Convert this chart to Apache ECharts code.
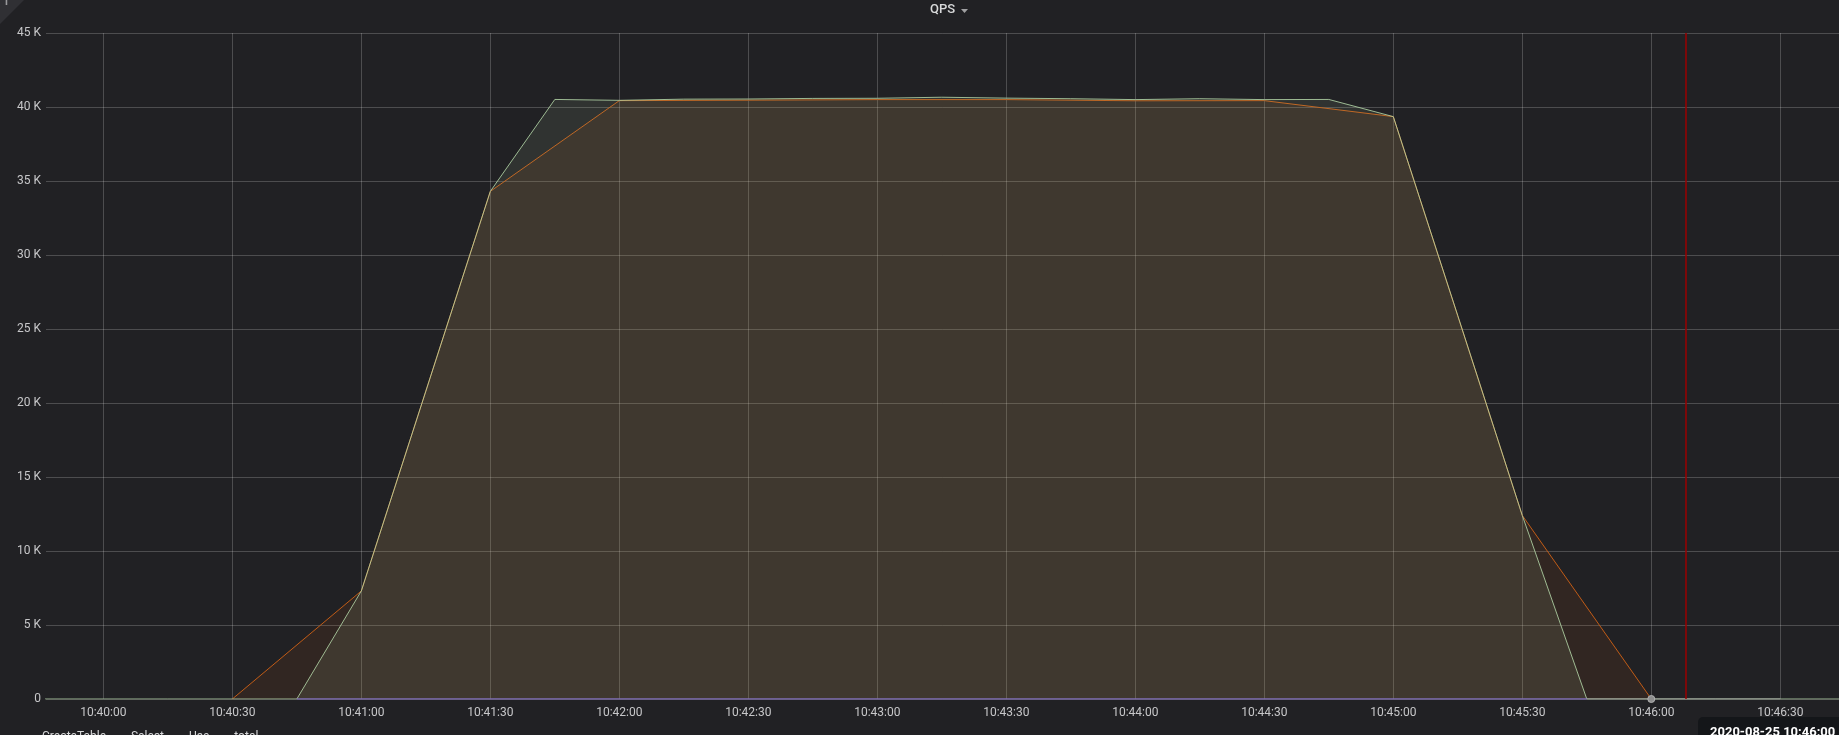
<!DOCTYPE html>
<html>
<head>
<meta charset="utf-8">
<script src="https://cdn.jsdelivr.net/npm/echarts@6/dist/echarts.min.js"></script>
<style>
html,body{margin:0;padding:0;background:#212124;}
#chart{width:1839px;height:735px;}
</style>
</head>
<body>
<div id="chart"></div>
<script>
// ---- data ----
const selectTimes = ['10:40:30','10:41:00','10:41:30','10:42:00','10:42:30','10:43:00','10:43:30','10:44:00','10:44:30','10:45:00','10:45:30','10:46:00'];
const selectValues = [0, 7300, 34300, 40430, 40460, 40500, 40500, 40420, 40430, 39350, 12400, 0];

const totalTimes = ['10:39:45','10:40:00','10:40:15','10:40:30','10:40:45','10:41:00','10:41:15','10:41:30','10:41:45','10:42:00','10:42:15','10:42:30','10:42:45','10:43:00','10:43:15','10:43:30','10:43:45','10:44:00','10:44:15','10:44:30','10:44:45','10:45:00','10:45:15','10:45:30','10:45:45','10:46:00','10:46:15','10:46:30','10:46:45'];
const totalValues = [0, 0, 0, 0, 0, 7300, 20800, 34300, 40510, 40450, 40530, 40540, 40580, 40590, 40660, 40600, 40560, 40500, 40560, 40500, 40510, 39350, 25900, 12400, 0, 0, 0, 0, 0];

const createTableTimes = ['10:40:45','10:41:00','10:41:15','10:41:30','10:41:45','10:42:00','10:42:15','10:42:30','10:42:45','10:43:00','10:43:15','10:43:30','10:43:45','10:44:00','10:44:15','10:44:30','10:44:45','10:45:00','10:45:15','10:45:30','10:45:45'];
const createTableValues = createTableTimes.map(() => 0);

const useTimes = ['10:45:45','10:46:00','10:46:15','10:46:30'];
const useValues = [0, 0, 0, 0];

const hoverTime = '10:46:00';
const hoverValue = 0;
const crosshairTime = '10:46:08';
const tooltipText = '2020-08-25 10:46:00';

const yTicks = [0, 5000, 10000, 15000, 20000, 25000, 30000, 35000, 40000, 45000];
const xBase = '10:40:00';          // first x tick label
const xLastTick = '10:46:30';      // last x tick label
const xTickSeconds = 30;
const xStart = '10:39:46.67';      // left edge of plot
const xEnd = '10:46:43.65';        // right edge of plot

// ---- helpers ----
function toSec(hms) {
  const p = hms.split(':');
  return (+p[0]) * 3600 + (+p[1]) * 60 + parseFloat(p[2]);
}
const BASE = toSec(xBase);
function T(hms) { return toSec(hms) - BASE; }
function pairs(ts, vs) { return ts.map((t, i) => [T(t), vs[i]]); }
function pad(n) { return (n < 10 ? '0' : '') + n; }
function fmt(sec) {
  const s = Math.round(BASE + sec);
  return pad(Math.floor(s / 3600)) + ':' + pad(Math.floor(s / 60) % 60) + ':' + pad(s % 60);
}

// layout: plot area 46..1839 px, both grids share the same px-per-second
const PLOT_L = 46, PLOT_R = 1839;
const pxPerSec = (PLOT_R - PLOT_L) / (T(xEnd) - T(xStart));
const tickGridLeft = PLOT_L + (T(xBase) - T(xStart)) * pxPerSec;
const tickGridRight = PLOT_R - (PLOT_L + (T(xLastTick) - T(xStart)) * pxPerSec);

const FONT = 'Roboto, "Noto Sans", sans-serif';
const GRIDC = 'rgba(255,255,255,0.2)';
const chart = echarts.init(document.getElementById('chart'), null, {renderer: 'canvas'});

chart.setOption({
  backgroundColor: '#212124',
  animation: false,
  textStyle: {fontFamily: FONT},
  title: {
    text: 'QPS',
    left: 930, top: 3, padding: 0,
    textStyle: {color: '#d8d9da', fontSize: 13, fontWeight: 500, fontFamily: FONT}
  },
  legend: {
    left: 18, top: 726,
    itemWidth: 14, itemHeight: 2, itemGap: 6,
    icon: 'rect',
    textStyle: {color: '#d8d9da', fontSize: 12, fontFamily: FONT},
    data: ['CreateTable', 'Select', 'Use', 'total']
  },
  grid: [
    {left: PLOT_L, right: 0, top: 33, bottom: 36, outerBoundsMode: 'none', containLabel: false},
    {left: tickGridLeft, right: tickGridRight, top: 33, bottom: 36, outerBoundsMode: 'none', containLabel: false}
  ],
  xAxis: [
    {
      type: 'value', gridIndex: 0,
      min: T(xStart), max: T(xEnd),
      axisLine: {show: false}, axisTick: {show: false},
      axisLabel: {show: false}, splitLine: {show: false}
    },
    {
      type: 'value', gridIndex: 1,
      min: 0, max: T(xLastTick), interval: xTickSeconds,
      axisLine: {show: false}, axisTick: {show: false},
      axisLabel: {
        color: '#c7c7c9', fontSize: 12, fontFamily: FONT, margin: 8,
        showMinLabel: true, showMaxLabel: true, hideOverlap: false,
        formatter: fmt
      },
      splitLine: {show: true, lineStyle: {color: GRIDC, width: 1}}
    }
  ],
  yAxis: [
    {
      type: 'value', gridIndex: 0,
      min: yTicks[0], max: yTicks[yTicks.length - 1], interval: yTicks[1] - yTicks[0],
      axisLine: {show: false}, axisTick: {show: false},
      axisLabel: {
        color: '#c7c7c9', fontSize: 12, fontFamily: FONT, margin: 5,
        formatter: v => v === 0 ? '0' : (v / 1000) + ' K'
      },
      splitLine: {show: true, lineStyle: {color: GRIDC, width: 1}}
    },
    {
      type: 'value', gridIndex: 1,
      min: yTicks[0], max: yTicks[yTicks.length - 1], interval: yTicks[1] - yTicks[0],
      axisLine: {show: false}, axisTick: {show: false},
      axisLabel: {show: false}, splitLine: {show: false}
    }
  ],
  series: [
    {
      name: 'Select', type: 'line', z: 2, xAxisIndex: 0, yAxisIndex: 0,
      data: pairs(selectTimes, selectValues),
      showSymbol: false, symbol: 'none',
      color: '#C15C17',
      lineStyle: {width: 1, color: '#C15C17'},
      areaStyle: {color: '#C15C17', opacity: 0.1},
      markPoint: {
        silent: true,
        symbol: 'circle', symbolSize: 7,
        itemStyle: {color: '#8e8e8e', borderColor: '#b0b0b0', borderWidth: 1},
        label: {show: false},
        data: [{coord: [T(hoverTime), hoverValue]}]
      },
      markLine: {
        silent: true, symbol: 'none',
        label: {show: false},
        lineStyle: {color: '#9a0000', width: 1.5, type: 'solid'},
        data: [{xAxis: T(crosshairTime)}]
      }
    },
    {
      name: 'total', type: 'line', z: 3, xAxisIndex: 0, yAxisIndex: 0,
      data: pairs(totalTimes, totalValues),
      showSymbol: false, symbol: 'none',
      color: '#B7DBAB',
      lineStyle: {width: 1, color: '#B7DBAB', opacity: 0.82},
      areaStyle: {color: '#B7DBAB', opacity: 0.1}
    },
    {
      name: 'Use', type: 'line', z: 4, xAxisIndex: 0, yAxisIndex: 0,
      data: pairs(useTimes, useValues),
      showSymbol: false, symbol: 'none',
      color: '#A9ABA8',
      lineStyle: {width: 1.2, color: '#A9ABA8'}
    },
    {
      name: 'CreateTable', type: 'line', z: 5, xAxisIndex: 0, yAxisIndex: 0,
      data: pairs(createTableTimes, createTableValues),
      showSymbol: false, symbol: 'none',
      color: '#806EB7',
      lineStyle: {width: 1.5, color: '#806EB7'}
    }
  ],
  graphic: [
    {type: 'polygon', left: 0, top: 0, z: 100, shape: {points: [[0, 0], [24, 0], [0, 24]]}, style: {fill: '#303034'}},
    {type: 'text', left: 5, top: -3, z: 101, style: {text: 'i', fill: '#9a9a9c', font: 'bold 11px ' + FONT}},
    {type: 'polygon', left: 961, top: 9, z: 100, shape: {points: [[0, 0], [7, 0], [3.5, 4]]}, style: {fill: '#a0a0a2'}},
    {type: 'rect', left: 1698, top: 717, z: 100, shape: {width: 160, height: 40, r: 5}, style: {fill: '#141619'}},
    {type: 'text', left: 1710, top: 726, z: 101, style: {text: tooltipText, fill: '#ffffff', font: 'bold 13px ' + FONT}}
  ]
});
</script>
</body>
</html>
